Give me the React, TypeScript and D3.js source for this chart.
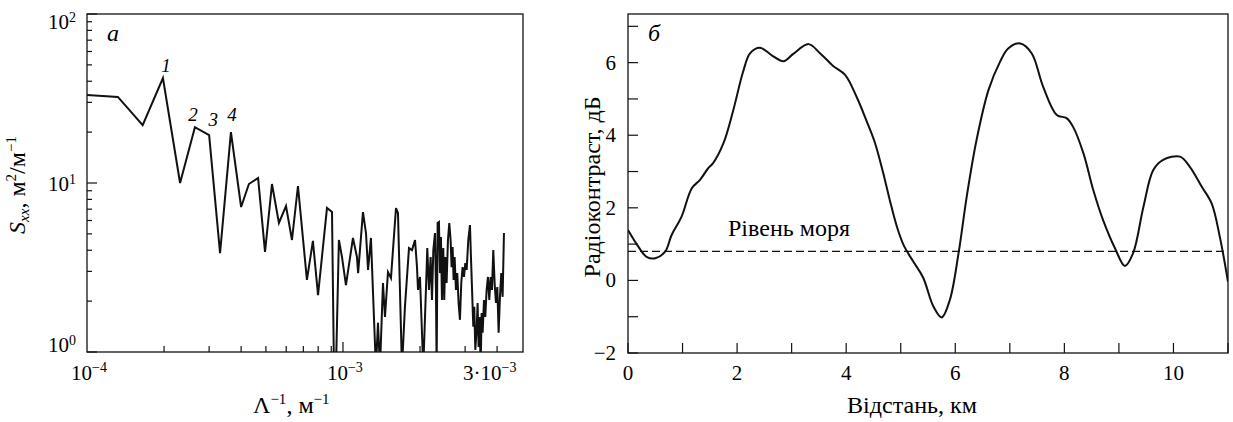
import React from "react";
import * as d3 from "d3";

// ---- Panel (a): spectrum S_xx vs inverse wavelength (freq in units of 1e-4 m^-1) ----
const specFreq = [
  1.0, 1.32, 1.65, 1.98, 2.31, 2.64, 3.0, 3.31, 3.65, 4.0, 4.29, 4.66, 4.96, 5.28, 5.62, 5.99,
  6.32, 6.67, 7.23, 7.63, 7.99, 8.66, 9.06, 9.22, 9.39, 9.64, 9.91, 10.27, 10.94, 11.34, 11.46,
  11.97, 12.3, 12.53, 12.86, 13.09, 13.45, 13.7, 13.95, 14.33, 14.59, 14.99, 15.4, 16.11, 16.4,
  17.0, 17.46, 18.11, 18.61, 19.12, 19.46, 19.64,
  19.99, 20.59, 21.09, 21.35, 21.67, 22.0, 22.27, 22.54, 22.88, 23.08, 23.22, 23.43, 23.71,
  23.93, 24.14, 24.36, 24.65, 24.87, 25.1, 25.4, 25.71, 26.02, 26.33, 26.57, 26.81, 27.05,
  27.3, 27.63, 27.96, 28.29, 28.64, 28.98, 29.33, 29.7, 30.05, 30.42, 30.87, 31.34, 31.62,
  31.91, 32.29, 32.58, 32.88, 33.27, 33.57, 33.88, 34.19, 34.5, 34.81, 35.13, 35.55, 35.97,
  36.41, 36.85, 37.29, 37.74, 38.2, 38.66, 39.12, 39.6, 40.08, 40.56, 41.04, 41.54, 42.04, 42.55,
];
const specValue = [
  33.2, 32.3, 22.0, 41.8, 10.0, 21.4, 19.2, 3.85, 20.0, 7.21, 9.86, 10.7, 3.91, 9.86, 5.8, 7.31,
  4.6, 9.6, 2.67, 4.54, 2.17, 7.11, 6.73, 0.8, 0.8, 4.6, 3.65, 2.49, 4.73, 3.65, 2.93,
  6.73, 5.06, 3.06, 4.73, 2.33, 0.8, 1.49, 0.8, 2.56, 1.61, 2.97, 2.74, 7.11, 6.64,
  0.8, 1.85, 4.12, 4.01, 4.6, 3.18, 2.33,
  2.78, 0.8, 2.33, 4.12, 2.33, 3.65, 2.03, 4.01, 5.06, 2.33, 0.8, 5.8, 5.88,
  2.93, 4.79, 2.03, 4.12, 2.03, 3.65, 2.56, 4.6, 5.8, 4.6, 3.18, 4.18, 2.67,
  3.65, 2.33, 2.93, 1.95, 1.55, 2.56, 3.18, 2.78, 3.36, 3.06, 4.6, 5.64, 3.65,
  2.42, 1.41, 1.85, 1.03, 1.35, 1.95, 1.07, 1.61, 0.8, 1.7, 1.3, 2.03, 1.61,
  2.33, 2.78, 2.03, 2.78, 2.33, 4.01, 2.56, 1.95, 2.42, 1.3, 2.12, 2.93, 2.12, 5.06,
];
const peakLabels = ["1", "2", "3", "4"];
const peakFreq = [1.98, 2.64, 3.0, 3.65];
const peakValue = [41.8, 21.4, 19.2, 20.0];

// ---- Panel (b): radio contrast vs distance ----
const distKm = [
  0, 0.19, 0.34, 0.5, 0.68, 0.8, 0.98, 1.17, 1.32, 1.47, 1.56, 1.75, 1.93, 2.11, 2.24, 2.42,
  2.63, 2.85, 3.03, 3.31, 3.52, 3.76, 3.98, 4.19, 4.38, 4.53, 4.68, 4.8, 4.93, 5.06, 5.23,
  5.41, 5.6, 5.75, 5.9, 6.06, 6.21, 6.39, 6.61, 6.82, 6.97, 7.19, 7.4, 7.61, 7.86, 8.04,
  8.16, 8.35, 8.53, 8.71, 8.93, 9.11, 9.26, 9.45, 9.63, 9.81, 10.12, 10.3, 10.52, 10.7,
  10.85, 11.0,
];
const contrastDb = [
  1.39, 0.93, 0.65, 0.61, 0.79, 1.25, 1.75, 2.54, 2.77, 3.09, 3.23, 3.78, 4.69, 5.75, 6.26, 6.41,
  6.21, 6.04, 6.24, 6.51, 6.26, 5.91, 5.66, 5.06, 4.37, 3.78, 2.95, 2.21, 1.48, 0.95, 0.52,
  0.08, -0.72, -1.02, -0.54, 0.75, 2.31, 3.87, 5.25, 6.02, 6.39, 6.53, 6.26, 5.34, 4.56, 4.47,
  4.23, 3.5, 2.49, 1.66, 0.88, 0.4, 0.75, 2.03, 3.04, 3.32, 3.41, 3.13, 2.58, 2.12,
  1.2, -0.04,
];
const seaLevel = 0.8;

const xTicksLeftMinor = [2e-4, 3e-4, 4e-4, 5e-4, 6e-4, 7e-4, 8e-4, 9e-4, 2e-3, 3e-3, 4e-3];
const yTicksLeftMinor = [2, 3, 4, 5, 6, 7, 8, 9, 20, 30, 40, 50, 60, 70, 80, 90];
const yTicksLeftMajor = [1, 10, 100];
const yTickLeftExp = ["0", "1", "2"];
const yTicksRight = [-2, -1, 0, 1, 2, 3, 4, 5, 6, 7];
const yTickLabelsRight = [-2, 0, 2, 4, 6];
const xTicksRight = [0, 1, 2, 3, 4, 5, 6, 7, 8, 9, 10, 11];
const xTickLabelsRight = [0, 2, 4, 6, 8, 10];

const FONT = "Liberation Serif";
const tick: React.CSSProperties = { fontFamily: FONT, fontSize: "21px" };
const title: React.CSSProperties = { fontFamily: FONT, fontSize: "24px" };
const sup: React.CSSProperties = { fontSize: "14px" };
const supT: React.CSSProperties = { fontSize: "15px" };
const ital: React.CSSProperties = { fontFamily: FONT, fontSize: "24px", fontStyle: "italic" };
const italNum: React.CSSProperties = { fontFamily: FONT, fontSize: "19px", fontStyle: "italic" };

export default function App() {
  const L = { x0: 87, x1: 523, y0: 14, y1: 352 };
  const xL = d3.scaleLog().domain([1e-4, 5.05e-3]).range([L.x0, L.x1]);
  const yL = d3.scaleLog().domain([1, 100]).range([L.y1, L.y0]);
  const specPts = specFreq.map((f, i) => [f * 1e-4, specValue[i]] as [number, number]);
  const specLine = d3
    .line<[number, number]>()
    .x((d) => xL(d[0]))
    .y((d) => yL(d[1]))(specPts);

  const R = { x0: 628, x1: 1228, y0: 14, y1: 353 };
  const xR = d3.scaleLinear().domain([0, 11]).range([R.x0, R.x1]);
  const yR = d3.scaleLinear().domain([-2, 7.34]).range([R.y1, R.y0]);
  const contrastPts = distKm.map((x, i) => [x, contrastDb[i]] as [number, number]);
  const contrastLine = d3
    .line<[number, number]>()
    .x((d) => xR(d[0]))
    .y((d) => yR(d[1]))
    .curve(d3.curveCatmullRom.alpha(0.5))(contrastPts);

  const stroke = "#111";
  const peakOffs = [[3, -6], [-2, -6], [4, -9], [1, -11]];

  return (
    <svg
      width={1233}
      height={422}
      fontFamily={FONT}
      style={{ position: "absolute", left: 0, top: 0, background: "#fff", ...tick }}
    >
      <rect x={0} y={0} width={1233} height={422} fill="#fff" />
      <defs>
        <clipPath id="clipL">
          <rect x={L.x0} y={L.y0} width={L.x1 - L.x0} height={L.y1 - L.y0} />
        </clipPath>
        <clipPath id="clipR">
          <rect x={R.x0} y={R.y0} width={R.x1 - R.x0} height={R.y1 - R.y0} />
        </clipPath>
      </defs>

      {/* ---------- Left panel ---------- */}
      <path d={specLine || ""} fill="none" stroke={stroke} strokeWidth={2} strokeLinejoin="miter" clipPath="url(#clipL)" />
      <rect x={L.x0} y={L.y0} width={L.x1 - L.x0} height={L.y1 - L.y0} fill="none" stroke={stroke} strokeWidth={1.3} />
      {xTicksLeftMinor.map((v) => (
        <line key={"xlm" + v} x1={xL(v)} x2={xL(v)} y1={L.y1} y2={L.y1 - 6} stroke={stroke} strokeWidth={1.2} />
      ))}
      <line x1={xL(1e-3)} x2={xL(1e-3)} y1={L.y1} y2={L.y1 - 10} stroke={stroke} strokeWidth={1.2} />
      {yTicksLeftMinor.map((v) => (
        <line key={"ylm" + v} x1={L.x0} x2={L.x0 + 5} y1={yL(v)} y2={yL(v)} stroke={stroke} strokeWidth={1.2} />
      ))}
      {yTicksLeftMajor.map((v) => (
        <line key={"ylM" + v} x1={L.x0} x2={L.x0 + 10} y1={yL(v)} y2={yL(v)} stroke={stroke} strokeWidth={1.2} />
      ))}
      {yTicksLeftMajor.map((v, i) => {
        const by = Math.min(Math.max(yL(v) + 8, 29), 352);
        return (
          <text key={"yll" + v} x={76} y={by} textAnchor="end" style={tick}>
            10<tspan dy={-7} style={sup}>{yTickLeftExp[i]}</tspan>
          </text>
        );
      })}
      <text x={xL(1e-4) - 16} y={380} textAnchor="start" style={tick}>
        10<tspan dy={-8} style={sup}>−4</tspan>
      </text>
      <text x={xL(1e-3) - 16} y={380} textAnchor="start" style={tick}>
        10<tspan dy={-8} style={sup}>−3</tspan>
      </text>
      <text x={xL(3e-3) - 2} y={380} textAnchor="start" style={tick}>
        3·10<tspan dy={-8} style={sup}>−3</tspan>
      </text>
      <text x={253} y={413} textAnchor="start" style={title}>
        Λ<tspan dy={-9} style={supT}>−1</tspan>
        <tspan dy={9}>, м</tspan>
        <tspan dy={-9} style={supT}>−1</tspan>
      </text>
      <text transform="translate(25,185) rotate(-90)" textAnchor="middle" style={title}>
        <tspan fontStyle="italic">S</tspan>
        <tspan fontStyle="italic" style={supT} dy={4}>xx</tspan>
        <tspan dy={-4}>, м</tspan>
        <tspan dy={-9} style={supT}>2</tspan>
        <tspan dy={9}>/м</tspan>
        <tspan dy={-9} style={supT}>−1</tspan>
      </text>
      <text x={107} y={41} style={ital}>а</text>
      {peakLabels.map((lab, i) => (
        <text
          key={"pk" + lab}
          x={xL(peakFreq[i] * 1e-4) + peakOffs[i][0]}
          y={yL(peakValue[i]) + peakOffs[i][1]}
          textAnchor="middle"
          style={italNum}
        >
          {lab}
        </text>
      ))}

      {/* ---------- Right panel ---------- */}
      <line
        x1={R.x0}
        x2={R.x1}
        y1={yR(seaLevel)}
        y2={yR(seaLevel)}
        stroke={stroke}
        strokeWidth={1.2}
        strokeDasharray="8,4"
      />
      <text x={728} y={yR(seaLevel) - 15} style={title} textLength={122} lengthAdjust="spacingAndGlyphs">
        Рівень моря
      </text>
      <path d={contrastLine || ""} fill="none" stroke={stroke} strokeWidth={2} clipPath="url(#clipR)" />
      <rect x={R.x0} y={R.y0} width={R.x1 - R.x0} height={R.y1 - R.y0} fill="none" stroke={stroke} strokeWidth={1.3} />
      {yTicksRight.map((v) => (
        <line key={"yr" + v} x1={R.x0} x2={R.x0 + 10} y1={yR(v)} y2={yR(v)} stroke={stroke} strokeWidth={1.2} />
      ))}
      {xTicksRight.map((v) => (
        <line key={"xr" + v} x1={xR(v)} x2={xR(v)} y1={R.y1} y2={R.y1 - 10} stroke={stroke} strokeWidth={1.2} />
      ))}
      {yTickLabelsRight.map((v) => (
        <text key={"yrl" + v} x={616} y={yR(v) + 7} textAnchor="end" style={tick}>
          {v < 0 ? "−" + Math.abs(v) : String(v)}
        </text>
      ))}
      {xTickLabelsRight.map((v) => (
        <text key={"xrl" + v} x={xR(v)} y={380} textAnchor="middle" style={tick}>
          {String(v)}
        </text>
      ))}
      <text x={847} y={413} style={title} textLength={130} lengthAdjust="spacingAndGlyphs">
        Відстань, км
      </text>
      <text transform="translate(600,187) rotate(-90)" textAnchor="middle" style={title}>
        Радіоконтраст, дБ
      </text>
      <text x={648} y={41} style={ital}>б</text>
    </svg>
  );
}
